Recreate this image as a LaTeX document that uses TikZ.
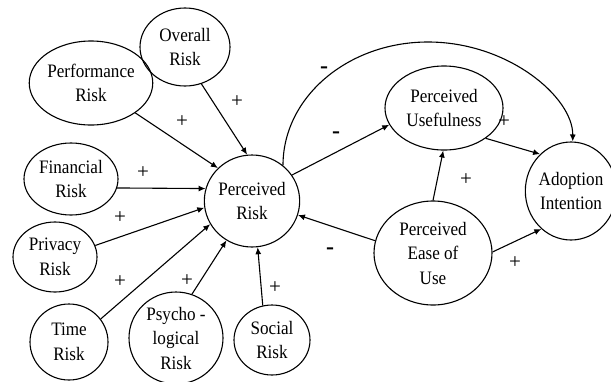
\documentclass[tikz,border=0pt]{standalone}
\usepackage{fontspec}
\newfontfamily\labfont{Liberation Serif}[FakeStretch=0.9]
\newfontfamily\signfont{Liberation Serif}
\usetikzlibrary{shapes.geometric,arrows.meta}
\begin{document}
\begin{tikzpicture}[x=1pt,y=-1pt,
  font=\labfont\fontsize{19}{24.5}\selectfont,
  construct/.style={draw,ellipse,line width=1.1pt,inner sep=0pt,align=center},
  link/.style={line width=1.1pt,-{Latex[length=7pt,width=6pt]}},
  plus/.style={inner sep=0pt,font=\signfont\fontsize{21}{21}\selectfont},
  minus/.style={inner sep=0pt,font=\signfont\bfseries\fontsize{24}{24}\selectfont}]
\useasboundingbox (0,0) rectangle (611,381);

% risk dimensions
\node[construct,minimum width=90pt,minimum height=78pt] (ov) at (185,47) {Overall\\Risk};
\node[construct,minimum width=112pt,minimum height=84pt] (pf) at (91,83) {Performance\\Risk};
\node[construct,minimum width=94pt,minimum height=72pt] (fi) at (71,179) {Financial\\Risk};
\node[construct,minimum width=84pt,minimum height=70pt] (pv) at (55,257) {Privacy\\Risk};
\node[construct,minimum width=78pt,minimum height=76pt] (tm) at (69,342) {Time\\Risk};
\node[construct,minimum width=94pt,minimum height=92pt] (ps) at (176,338) {Psycho -\\logical\\Risk};
\node[construct,minimum width=76pt,minimum height=70pt] (so) at (272,340) {Social\\Risk};

% central and outcome constructs
\node[construct,minimum width=90pt,minimum height=92pt] (pr) at (252,201) {Perceived\\Risk};
\node[construct,minimum width=118pt,minimum height=84pt] (pu) at (444,108) {Perceived\\Usefulness};
\node[construct,minimum width=118pt,minimum height=104pt] (pe) at (433,253) {Perceived\\Ease of\\Use};
\node[construct,minimum width=82pt,minimum height=98pt] (ai) at (571,191) {Adoption\\Intention};

% paths into perceived risk
\draw[link] (ov.294) -- (pr.96);
\draw[link] (pf.-34) -- (pr.136);
\draw[link] (fi.-11) -- (pr.165);
\draw[link] (pv.16) -- (pr.188);
\draw[link] (tm.36) -- (pr.209);
\draw[link] (ps.70) -- (pr.237);
\draw[link] (so.105) -- (pr.277);

% structural paths
\draw[link] (pr.33) -- (pu.197);
\draw[link] (pr.49) .. controls (283,97) and (348,42) .. (428,42)
                    .. controls (508,42) and (573,97) .. (ai.88);
\draw[link] (pu.-36) -- (ai.130);
\draw[link] (pe.90) -- (pu.269);
\draw[link] (pe.168) -- (pr.343);
\draw[link] (pe.1) -- (ai.232);

% path signs
\node[plus] (s1) at (237,102) {+};
\node[plus] (s2) at (182,122) {+};
\node[plus] (s3) at (143,173) {+};
\node[plus] (s4) at (120,218) {+};
\node[plus] (s5) at (120,282) {+};
\node[plus] (s6) at (187,281) {+};
\node[plus] (s7) at (275,288) {+};
\node[minus] (s8) at (324,70) {-};
\node[minus] (s9) at (336,135) {-};
\node[plus] (s10) at (504,122) {+};
\node[plus] (s11) at (466,180) {+};
\node[minus] (s12) at (330,251) {-};
\node[plus] (s13) at (515,263) {+};
\end{tikzpicture}
\end{document}
